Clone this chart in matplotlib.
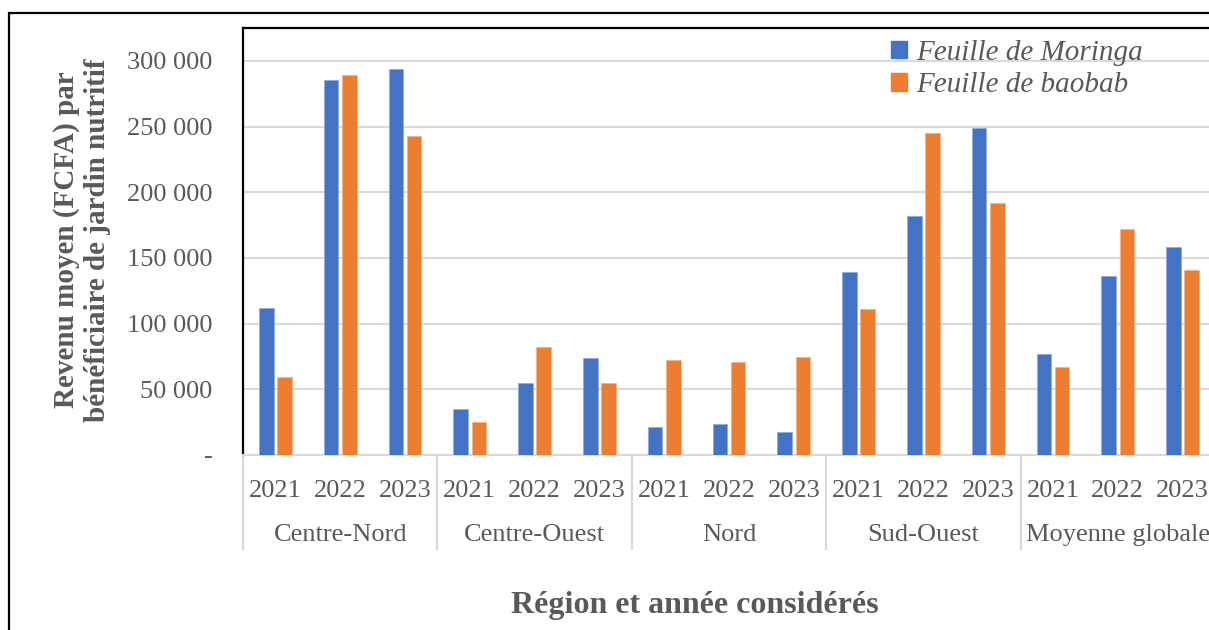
import matplotlib.pyplot as plt
import numpy as np
from matplotlib.patches import Rectangle
from matplotlib.lines import Line2D

plt.rcParams['font.family'] = ['Liberation Serif', 'DejaVu Serif']

regions = ['Centre-Nord', 'Centre-Ouest', 'Nord', 'Sud-Ouest', 'Moyenne globale']
years = ['2021', '2022', '2023']
moringa = [112000, 285500, 293500,
           35000, 55000, 73500,
           21000, 23500, 17500,
           139000, 182000, 249000,
           77000, 136500, 158000]
baobab = [59000, 289000, 243000,
          25000, 82000, 55000,
          72000, 71000, 74500,
          111000, 245000, 192000,
          67000, 172000, 141000]

W, H = 1209, 630
gray = '#595959'
grid = '#D9D9D9'
blue = '#4472C4'
orange = '#ED7D31'

fig = plt.figure(figsize=(W / 100, H / 100), dpi=100)

# outer frame (cut on right/bottom like the screenshot)
fig.patches.append(Rectangle((9 / W, -0.1), 1.2, (630 - 13) / H + 0.1,
                             transform=fig.transFigure, fill=False,
                             edgecolor='black', lw=1.6))

left, right, top, bottom = 243, 1215, 28, 455
ax = fig.add_axes([left / W, 1 - bottom / H, (right - left) / W, (bottom - top) / H])

n = len(moringa)
x = np.arange(n)
bw = 0.224
off = 0.14
ax.bar(x - off, moringa, bw, color=blue, edgecolor='#8FAADC', lw=0.5, zorder=3)
ax.bar(x + off, baobab, bw, color=orange, edgecolor='#F4B183', lw=0.5, zorder=3)

ax.set_xlim(-0.5, n - 0.5)
ax.set_ylim(0, 325000)

yt = np.arange(0, 300001, 50000)
ax.set_yticks(yt)
ax.set_yticklabels(['-' if v == 0 else f'{v:,}'.replace(',', ' ') for v in yt])
ax.yaxis.grid(True, color=grid, lw=1.5, zorder=0)
ax.tick_params(axis='y', length=0, pad=22, labelsize=19, labelcolor=gray)

ax.set_xticks(x)
ax.set_xticklabels(years * len(regions))
ax.tick_params(axis='x', length=0, pad=18, labelsize=19, labelcolor=gray)

for s in ['top', 'left', 'right']:
    ax.spines[s].set_color('black')
    ax.spines[s].set_linewidth(1.6)
ax.spines['bottom'].set_color(grid)
ax.spines['bottom'].set_linewidth(1.5)

# region labels and separators
trans = ax.get_xaxis_transform()
for i, r in enumerate(regions):
    ax.text(3 * i + 1, -80 / 427, r, transform=trans, ha='center', va='center',
            fontsize=19, color=gray)
for b in np.arange(-0.5, n, 3):
    ax.add_line(Line2D([b, b], [0, -94 / 427], transform=trans, color=grid,
                       lw=1.5, clip_on=False))

fig.text(82 / W, 1 - 240 / H, 'Revenu moyen (FCFA) par\nbénéficiaire de jardin nutritif',
         rotation=90, ha='center', va='center', fontsize=21, fontweight='bold',
         color=gray, multialignment='center', linespacing=1.15)
fig.text(695 / W, 1 - 606 / H, 'Région et année considérés', ha='center', va='center',
         fontsize=23, fontweight='bold', color=gray)

handles = [Rectangle((0, 0), 1, 1, color=blue), Rectangle((0, 0), 1, 1, color=orange)]
fig.legend(handles, ['Feuille de Moringa', 'Feuille de baobab'], loc='upper left',
           bbox_to_anchor=(891 / W, 1 - 40 / H), frameon=False, borderpad=0,
           borderaxespad=0, handlelength=0.55, handleheight=0.55, handletextpad=0.3,
           labelspacing=0.22, prop={'style': 'italic', 'size': 21}, labelcolor=gray)

fig.savefig('out.png', dpi=100)
